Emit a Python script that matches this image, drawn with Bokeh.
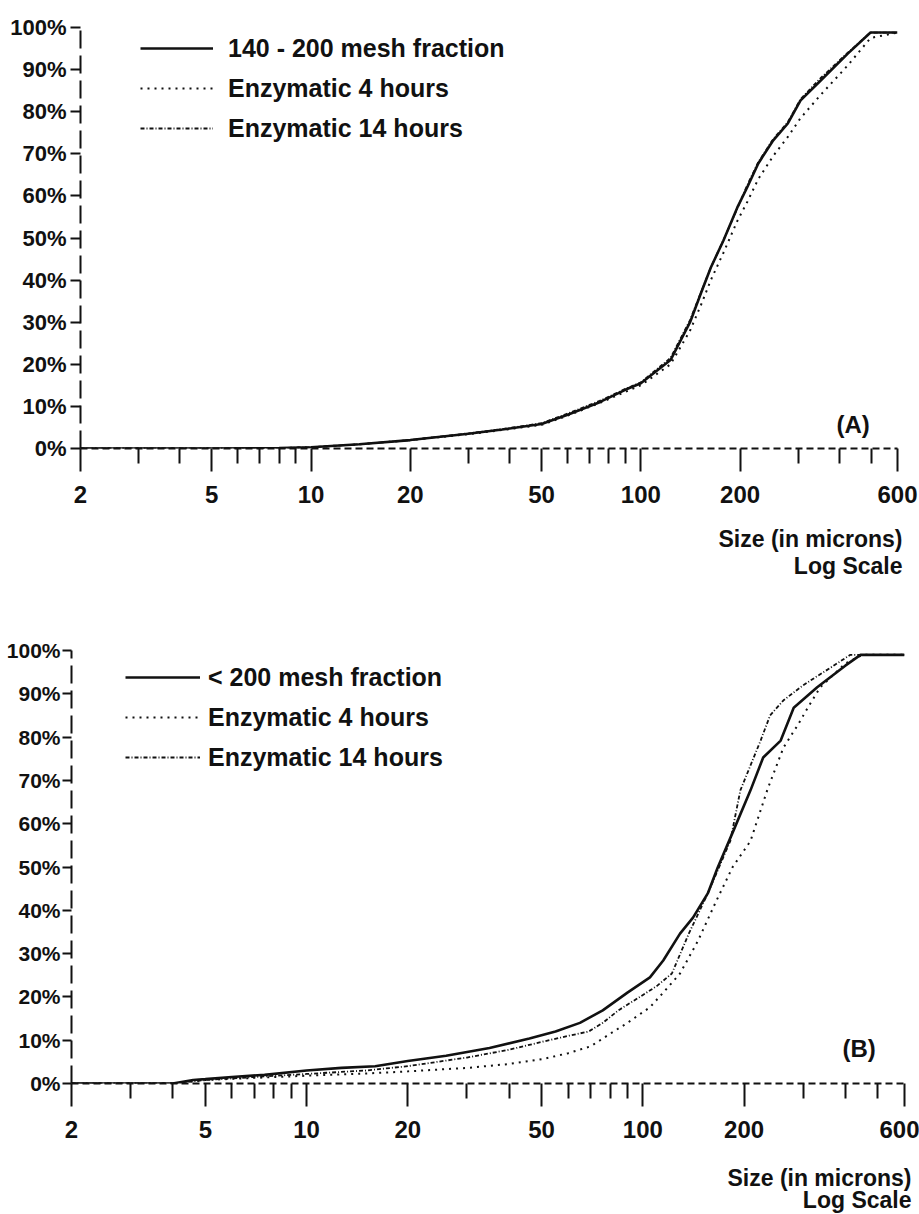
from bokeh.plotting import figure
from bokeh.layouts import column
from bokeh.models import (Range1d, FixedTicker, PrintfTickFormatter, Legend, LegendItem, Label)
from bokeh.embed import file_html
from bokeh.resources import INLINE

FONT = "Liberation Sans"
W = 919

# ---------------- data ----------------
x_ticks = [2, 5, 10, 20, 50, 100, 200, 600]
x_minor = [3, 4, 6, 7, 8, 9, 30, 40, 60, 70, 80, 90, 300, 400, 500]
y_ticks = [0, 10, 20, 30, 40, 50, 60, 70, 80, 90, 100]
axis_title = "Size (in microns)"
axis_subtitle = "Log Scale"

# Chart A
a_labels = ["140 - 200 mesh fraction", "Enzymatic 4 hours", "Enzymatic 14 hours"]
a_x = [2, 5, 8, 10, 14, 20, 30, 38, 50, 60, 75, 90, 100, 123, 141, 152, 163, 178,
       196, 210, 227, 252, 279, 305, 351, 424, 497, 600]
a_mesh = [0, 0, 0.1, 0.3, 1, 2, 3.5, 4.5, 5.8, 8, 11, 14, 15.5, 21, 30, 36.8, 43, 49.4,
          57.2, 62, 67.7, 73.2, 77.2, 82.7, 87.4, 93.8, 98.8, 98.8]
a_4h = [0, 0, 0.1, 0.3, 1, 2, 3.4, 4.4, 5.6, 7.8, 10.8, 13.5, 15, 20, 28, 34, 40, 46.5,
        54, 58.5, 64, 69.5, 74, 78.5, 84, 91, 97.5, 98.8]
a_14h = [0, 0, 0.1, 0.3, 1, 2, 3.6, 4.6, 6, 8.3, 11.3, 14.2, 15.7, 21.5, 30.5, 37, 43, 49.5,
         57, 62.5, 68, 73.5, 77.5, 83, 88, 94, 98.8, 98.8]

# Chart B
b_labels = ["< 200 mesh fraction", "Enzymatic 4 hours", "Enzymatic 14 hours"]
b_mesh_x = [2, 4, 4.6, 5, 6, 7.5, 10, 12.7, 16, 20, 26, 35, 46, 55, 65, 76, 90, 105, 115,
            129, 141, 156, 167, 186, 209, 228, 257, 281, 330, 400, 444, 600]
b_mesh_y = [0, 0, 0.8, 1, 1.5, 2, 3, 3.6, 4, 5.2, 6.4, 8.2, 10.4, 12, 14, 16.9, 21, 24.5, 28.4,
            34.6, 38.3, 43.9, 49.9, 58.4, 67.7, 75.3, 79.2, 86.8, 91.5, 96.5, 99, 99]
b_4h_x = [2, 4, 5, 7, 10, 15, 20, 30, 40, 50, 60, 70, 80, 90, 105, 115, 129, 146, 165, 185,
          209, 235, 262, 290, 309, 337, 400, 450, 600]
b_4h_y = [0, 0, 0.8, 1.3, 1.8, 2.3, 2.8, 3.6, 4.5, 5.6, 7, 8.6, 11.5, 14, 17.6, 21, 25.4, 33,
          42, 50, 56, 68, 77.6, 83, 86.7, 91.5, 97, 99, 99]
b_14h_x = [2, 4, 5, 7, 10, 15, 20, 30, 40, 50, 60, 69, 76, 85, 98, 110, 122, 137, 156, 182,
           195, 224, 239, 262, 300, 361, 414, 600]
b_14h_y = [0, 0, 0.8, 1.5, 2.2, 3, 4, 6, 7.8, 9.6, 11, 12, 14, 17, 20, 22.5, 25.4, 34.6, 43.9,
           56, 67.7, 79.2, 85, 88.5, 92, 96, 99, 99]


def make_fig(height, left, right, top, bottom, ytick_out, ystandoff, ysize):
    p = figure(width=W, height=height, x_axis_type="log",
               x_range=Range1d(2, 600), y_range=Range1d(0, 100),
               output_backend="svg", toolbar_location=None,
               min_border_left=left, min_border_right=right,
               min_border_top=top, min_border_bottom=bottom)
    p.outline_line_color = None
    p.grid.grid_line_color = None
    p.background_fill_color = "white"
    p.border_fill_color = "white"

    xa = p.xaxis[0]
    xa.ticker = FixedTicker(ticks=x_ticks, minor_ticks=x_minor)
    xa.formatter = PrintfTickFormatter(format="%d")
    xa.axis_line_color = "#111111"
    xa.axis_line_width = 2
    xa.axis_line_dash = "7 4"
    xa.major_tick_out = 23
    xa.major_tick_in = 0
    xa.minor_tick_out = 15
    xa.minor_tick_in = 0
    xa.major_tick_line_width = 2
    xa.minor_tick_line_width = 2
    xa.major_tick_line_color = "#111111"
    xa.minor_tick_line_color = "#111111"
    xa.major_label_text_font = FONT
    xa.major_label_text_font_style = "bold"
    xa.major_label_text_font_size = "24px"
    xa.major_label_text_color = "#111111"
    xa.major_label_standoff = 14

    ya = p.yaxis[0]
    ya.ticker = FixedTicker(ticks=y_ticks)
    ya.formatter = PrintfTickFormatter(format="%d%%")
    ya.axis_line_color = "#111111"
    ya.axis_line_width = 2
    ya.axis_line_dash = "18 7"
    ya.major_tick_out = ytick_out
    ya.major_tick_in = 0
    ya.minor_tick_line_color = None
    ya.major_tick_line_width = 2
    ya.major_tick_line_color = "#111111"
    ya.major_label_text_font = FONT
    ya.major_label_text_font_style = "bold"
    ya.major_label_text_font_size = ysize
    ya.major_label_text_color = "#111111"
    ya.major_label_standoff = ystandoff
    return p


def add_curves(p, xs, ys, labels, legend_loc, glyph_w, standoff, tag, tag_y):
    styles = [dict(line_width=2.6, line_dash="solid"),
              dict(line_width=2.0, line_dash="2 5"),
              dict(line_width=1.8, line_dash="4 2 1 2")]
    items = []
    for x, y, lab, st in zip(xs, ys, labels, styles):
        r = p.line(x, y, line_color="#111111", **st)
        items.append(LegendItem(label=lab, renderers=[r]))
    leg = Legend(items=items, location=legend_loc, orientation="vertical",
                 label_text_font=FONT, label_text_font_style="bold",
                 label_text_font_size="25px", label_text_color="#111111",
                 glyph_width=glyph_w, glyph_height=40, label_height=40,
                 spacing=0, padding=0, margin=0, label_standoff=standoff,
                 border_line_color=None, background_fill_alpha=0)
    p.add_layout(leg)
    p.add_layout(Label(x=440, y=tag_y, text=tag, text_align="center", text_baseline="middle",
                       text_font=FONT, text_font_style="bold", text_font_size="24px",
                       text_color="#111111"))


def text_strip(height, right_x, y1, y2):
    # a blank strip (no axes) holding the right-aligned axis caption lines;
    # its ranges are in pixels, top-down
    t = figure(width=W, height=height, x_range=Range1d(0, W), y_range=Range1d(height, 0),
               output_backend="svg", toolbar_location=None,
               x_axis_location=None, y_axis_location=None,
               min_border_left=0, min_border_right=0, min_border_top=0, min_border_bottom=0)
    t.outline_line_color = None
    t.grid.grid_line_color = None
    t.background_fill_color = "white"
    t.border_fill_color = "white"
    for txt, yy in ((axis_title, y1), (axis_subtitle, y2)):
        t.add_layout(Label(x=right_x, y=yy, text=txt, text_align="right", text_baseline="middle",
                           text_font=FONT, text_font_style="bold", text_font_size="23px",
                           text_color="#111111"))
    return t


# Figure A: frame x 80..897, y 27..448 (page coords); fig spans 0..520
pA = make_fig(520, 80, 22, 27, 72, 10, 4, "22px")
add_curves(pA, [a_x, a_x, a_x], [a_mesh, a_4h, a_14h], a_labels, (60, 300), 73, 15, "(A)", 5.8)
tA = text_strip(88, 902, 18, 45)          # spans 520..608

# Figure B: frame x 71..904, y 650..1083; fig spans 608..1155
pB = make_fig(547, 71, 15, 42, 72, 9, 2, "21px")
add_curves(pB, [b_mesh_x, b_4h_x, b_14h_x], [b_mesh_y, b_4h_y, b_14h_y], b_labels,
           (54, 306), 75, 8, "(B)", 8)
tB = text_strip(59, 911, 22, 44)          # spans 1155..1214

layout = column(column(pA), column(tA), column(pB), column(tB), spacing=0)
open("out.html", "w").write(file_html(layout, INLINE))
